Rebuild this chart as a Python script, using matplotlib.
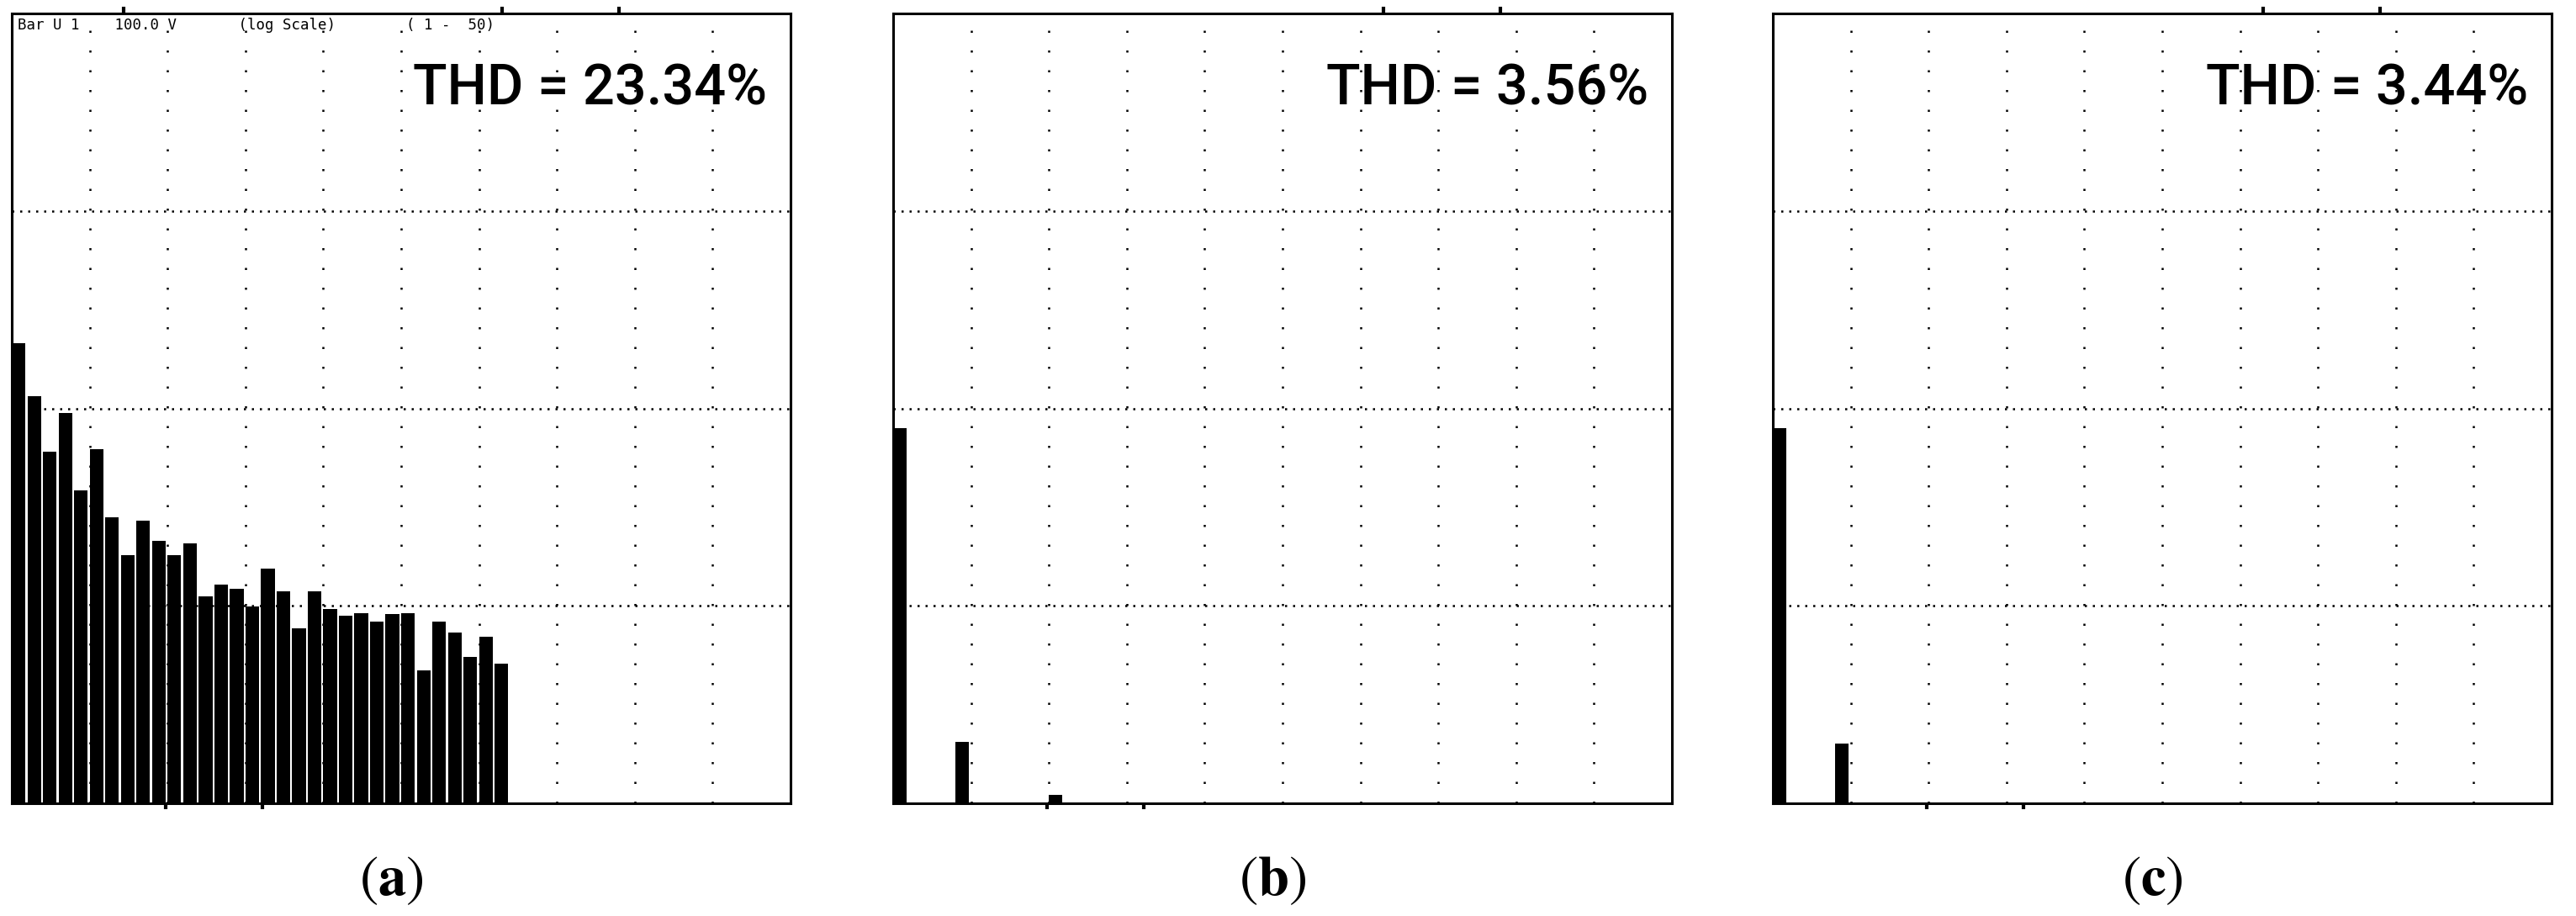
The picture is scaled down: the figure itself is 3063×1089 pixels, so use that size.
import numpy as np
import matplotlib
matplotlib.use('Agg')
import matplotlib.pyplot as plt

plt.rcParams['mathtext.fontset'] = 'stix'

orders_a = np.arange(1, 33)
volts_a = [21.3, 11.5, 6.05, 9.5, 3.86, 6.19, 2.80, 1.80, 2.69, 2.13, 1.80, 2.08,
           1.12, 1.28, 1.22, 0.99, 1.54, 1.19, 0.77, 1.19, 0.96, 0.89, 0.92, 0.83,
           0.91, 0.92, 0.47, 0.83, 0.73, 0.55, 0.70, 0.51]

orders_b = [1, 5, 11]
volts_b = [7.95, 0.204, 0.110]

orders_c = [1, 5]
volts_c = [7.97, 0.200]

thd_labels = ['THD = 23.34%', 'THD = 3.56%', 'THD = 3.44%']
panel_labels = ['a', 'b', 'c']
header = 'Bar U 1    100.0 V       (log Scale)        ( 1 -  50)'

n_orders = 50
decades = [1, 10, 100]

fig = plt.figure(figsize=(30.63, 10.89), dpi=100)

lefts = [14 / 3063, 1062 / 3063, 2108 / 3063]
width = 926 / 3063
bottom = 134 / 1089
height = 939 / 1089

datasets = [(orders_a, volts_a), (orders_b, volts_b), (orders_c, volts_c)]

for i, (orders, volts) in enumerate(datasets):
    ax = fig.add_axes([lefts[i], bottom, width, height])
    ax.set_yscale('log')
    ax.set_xlim(0.5, n_orders + 0.5)
    ax.set_ylim(0.1, 1000)

    # dotted screen grid
    for x in np.arange(5.5, n_orders, 5):
        ax.axvline(x, color='black', lw=1.8, linestyle=(0, (1, 8.4)), zorder=1)
    for y in decades:
        ax.axhline(y, color='black', lw=1.8, linestyle=(0, (1, 2.8)), zorder=1)

    ax.bar(np.array(orders) - 0.5, volts, width=0.88, align='edge',
           color='black', edgecolor='none', zorder=2)

    # frame and small screen marks
    for s in ax.spines.values():
        s.set_linewidth(2.2)
        s.set_color('black')
    ax.set_xticks([10.4, 16.6])
    ax.set_xticklabels([])
    ax.tick_params(axis='x', length=5, width=3, direction='out', top=False)
    ax.set_yticks([])
    ax.yaxis.set_minor_locator(matplotlib.ticker.NullLocator())
    sec = ax.secondary_xaxis('top')
    sec.set_xticks([7.7, 32, 39.5] if i == 0 else [32, 39.5])
    sec.set_xticklabels([])
    sec.tick_params(length=6, width=3, direction='out')
    sec.spines['top'].set_visible(False)

    ax.text(0.97, 0.884, thd_labels[i], transform=ax.transAxes, ha='right', va='baseline',
            fontsize=48, fontweight='medium', family=['Roboto', 'Liberation Sans'])

    if i == 0:
        ax.text(0.008, 0.995, header, transform=ax.transAxes, ha='left', va='top',
                fontsize=12.5, family='DejaVu Sans Mono')

    fig.text(lefts[i] + width / 2 - 12 / 3063, 0.040,
             r'$(\mathbf{' + panel_labels[i] + r'})$',
             ha='center', va='center', fontsize=48)

fig.savefig('out.png', dpi=100, facecolor='white')
